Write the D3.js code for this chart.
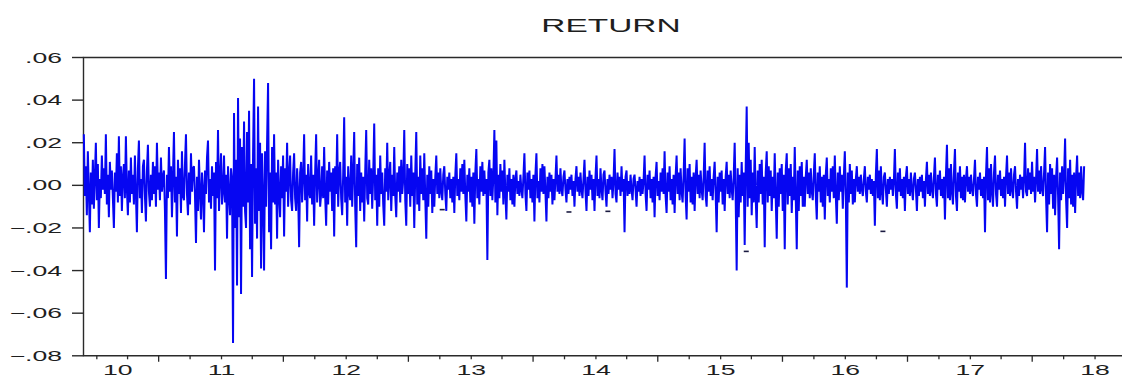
<!DOCTYPE html>
<html>
<head>
<meta charset="utf-8">
<script src="https://cdn.jsdelivr.net/npm/d3@7"></script>
<style>
  body { margin: 0; background: #fff; }
  text { font-family: "Liberation Sans", Arial, sans-serif; fill: #1e1e1e; }
</style>
</head>
<body>
<div id="chart"></div>
<script>
var width = 1122,
    height = 376;

const title = "RETURN";
const firstDay = new Date(2009, 10, 24);
const lastDay = new Date(2017, 10, 30);

// daily return in 0.001 units (about one value per pixel)
const returnsPermil = [
  24,-5,9,-14,16,-3,-22,6,-9,12,  -11,4,20,-7,10,-20,3,-6,14,-2,  8,-4,24,-9,5,-15,11,-2,7,-6,
  -20,6,-3,15,-8,23,-5,9,-12,4,  10,-6,23,-2,-14,7,-8,13,-4,5,  -9,14,-4,-22,8,21,-6,3,-13,9,
  12,-5,-17,7,19,-3,-10,5,-7,11,  -4,9,-10,20,-2,6,-7,13,-3,4,  7,-12,-44,5,-6,18,-3,9,-15,4,
  25,-8,4,-24,12,-4,8,-13,16,-5,  -7,10,24,-4,-14,6,-9,15,-3,8,  9,-5,-27,4,-12,12,-3,-16,6,-2,
  -22,7,-4,13,21,-8,3,-11,9,-5,  6,-40,11,-6,26,-12,4,15,-9,-3,  14,-8,5,-25,9,-4,-14,8,3,-74,
  34,-20,12,-47,41,-15,22,-51,18,-10,  30,-12,-20,25,-8,35,-30,10,-43,14,  50,-18,8,-25,37,-12,20,-39,15,-6,
  -40,16,-10,20,48,-22,6,-30,18,-8,  24,-9,6,-25,12,-4,-15,9,-6,14,  -24,8,-3,20,-10,5,14,-7,-12,6,
  15,-6,-12,8,-3,-29,6,11,-8,4,  24,-7,5,-17,10,-3,-6,14,-9,5,  -19,6,24,-8,3,12,-10,-4,9,-6,
  18,-5,-19,7,-9,11,-3,6,-12,8,  -24,9,-4,24,-10,6,11,-6,-14,5,  32,-8,4,-19,9,-3,-7,14,-10,6,
  25,-10,-29,10,-5,13,-12,6,-8,4,  -17,6,26,-6,-9,12,-4,8,-11,5,  29,-7,5,-19,8,-10,14,-4,6,-9,
  -19,8,-3,20,-7,4,11,-12,5,-5,  18,-5,-15,6,-3,9,-8,12,-4,3,  26,-7,-19,10,-4,8,-10,14,-5,6,
  -20,6,25,-9,4,-12,14,-4,8,-7,  15,-6,-25,5,-10,9,-4,7,-13,3,  -10,4,14,-4,6,-6,8,-3,-7,5,
  9,-4,-12,4,-2,6,-6,3,-8,4,  -13,5,15,-5,3,-7,8,-3,10,-4,  12,-5,-17,5,-3,8,-8,4,-10,6,
  -18,6,17,-6,3,-9,9,-3,11,-5,  7,-4,3,-35,6,12,-5,8,-7,4,  26,-8,21,-14,5,-6,10,-3,7,-9,
  12,-4,-16,5,-3,8,-7,3,-9,5,  -10,3,7,-4,2,-5,5,-2,-6,4,  15,-4,-12,6,-2,7,-6,3,-8,5,
  -17,5,15,-6,2,-8,8,-3,10,-4,  9,-3,-17,4,-6,6,-3,5,-9,3,  -7,3,14,-3,5,-4,8,-2,-5,4,
  7,-2,-8,3,-4,4,-2,5,-5,2,  -10,3,9,-3,4,-5,6,-2,-6,3,  12,-3,-12,4,-5,7,-2,5,-7,3,
  -12,4,14,-5,3,-6,8,-2,-7,5,  7,-3,-10,3,-4,5,-2,4,-6,2,  17,-4,-8,6,-2,4,-5,9,-3,3,
  -22,4,7,-5,2,-4,5,-2,-7,3,  5,-2,-10,2,-3,4,-5,3,-4,2,  14,-4,-12,5,-2,7,-6,3,-8,4,
  -15,4,11,-5,2,-7,6,-3,8,-4,  16,-5,-13,6,-3,9,-7,3,-9,5,  -13,4,14,-4,6,-7,8,-3,-8,5,
  22,-5,-16,8,-3,10,-8,4,-9,6,  -12,4,12,-4,5,-6,7,-2,-7,4,  20,-5,-10,7,-3,9,-5,3,-7,4,
  11,-4,-22,4,-8,6,-3,7,-9,3,  -12,4,11,-4,5,-6,7,-2,-7,4,  20,-6,-40,8,-15,5,-8,11,-5,6,
  -28,8,37,-10,20,-6,12,-14,6,-8,  18,-6,-20,7,-8,10,-4,12,-9,4,  -29,6,16,-8,9,-5,7,-12,4,-6,
  15,-6,-25,6,-10,8,-4,10,-12,5,  -30,7,15,-9,8,-5,10,-13,4,-7,  18,-6,-30,7,-12,9,-5,11,-10,4,
  -10,4,12,-4,6,-6,8,-3,-7,5,  15,-5,-16,6,-3,9,-8,4,-10,5,  -16,5,13,-5,3,-8,8,-3,9,-6,
  14,-5,-18,6,-7,9,-3,5,-11,4,  16,-5,-48,6,-8,10,-4,7,-9,3,  -8,3,9,-3,4,-4,5,-2,-5,3,
  9,-3,-8,4,-2,5,-4,3,-5,2,  -19,5,17,-6,7,-7,9,-3,-9,4,  6,-2,-10,3,-4,4,-2,3,-5,2,
  17,-4,-11,6,-3,8,-5,3,-6,4,  -12,4,9,-4,3,-5,6,-2,-7,3,  6,-2,-12,3,-5,4,-3,5,-6,2,
  -10,3,11,-4,5,-5,6,-2,-6,4,  13,-4,-10,5,-2,7,-5,3,-6,4,  -16,5,19,-6,8,-7,10,-3,-9,6,
  17,-5,-12,6,-3,9,-6,4,-7,5,  -8,3,9,-3,4,-4,5,-2,-5,3,  12,-4,-10,4,-2,6,-5,3,-6,4,
  -22,5,18,-7,8,-8,10,-3,-10,6,  14,-4,-10,5,-2,7,-5,3,-6,4,  -10,4,14,-4,6,-5,8,-2,-6,5,
  9,-3,-11,3,-5,5,-2,4,-6,3,  20,-3,-5,8,-2,6,-4,11,-3,4,  -8,3,17,-3,7,-4,9,-2,-5,6,
  18,-6,-22,6,-9,10,-4,8,-11,5,  -14,4,13,-5,-30,6,-7,9,-4,5,  22,-7,-20,8,-6,12,-9,5,-10,6,
  -13,4,14,-5,6,-6,9,-3,-7,9
];

// single days between holiday gaps, EViews shows them as short dashes
const loneDays = [new Date(2012, 9, 8), new Date(2013, 9, 14), new Date(2014, 1, 5),
                  new Date(2015, 2, 17), new Date(2016, 3, 20)];
const loneValues = [-.0114, -.0125, -.0122, -.031, -.0216];

const yTicks = [.06, .04, .02, 0, -.02, -.04, -.06, -.08];
const years = ["2010", "2011", "2012", "2013", "2014", "2015", "2016", "2017", "2018"];

const stretch = 1.9; // the picture is wider than the graph it came from

const x = d3.scaleTime()
    .domain([new Date(2009, 10, 23), new Date(2018, 3, 1)])
    .range([83.5, 1125.8]);

const y = d3.scaleLinear()
    .domain([-.08, .06])
    .range([355.8, 57.5]);

const step = (lastDay - firstDay) / (returnsPermil.length - 1);
const points = returnsPermil.map((v, i) => ({ date: new Date(+firstDay + i * step), value: v / 1000 }));

const svg = d3.select("#chart").append("svg")
    .attr("width", width)
    .attr("height", height)
    .style("display", "block")
    .style("background", "#fff");

// title
svg.append("text")
    .attr("transform", `translate(611,31.7) scale(${stretch},1)`)
    .attr("text-anchor", "middle")
    .style("font-size", "17.6px")
    .text(title);

// frame
const left = x.range()[0], right = x.range()[1];
svg.append("path")
    .attr("d", `M${right},${y(.06)}H${left}V${y(-.08)}H${right}`)
    .attr("fill", "none")
    .attr("stroke", "#2a2a2a")
    .attr("stroke-width", 1.4);

// y axis ticks + labels
const fmt = v => (v === 0 ? ".00" : d3.format(".2f")(v).replace("0.", "."));
const yg = svg.append("g");
yg.selectAll("line")
  .data(yTicks)
  .join("line")
    .attr("x1", left - 11.5)
    .attr("x2", left)
    .attr("y1", d => y(d))
    .attr("y2", d => y(d))
    .attr("stroke", "#2a2a2a")
    .attr("stroke-width", 1.4);
yg.selectAll("text")
  .data(yTicks)
  .join("text")
    .attr("transform", d => `translate(62,${y(d) + 5}) scale(${stretch},1)`)
    .attr("text-anchor", "end")
    .style("font-size", "14px")
    .text(fmt);

// x axis: quarterly ticks, longer ones in July, labels on the year start
const quarters = d3.timeMonth.every(3).range(new Date(2010, 0, 1), new Date(2018, 3, 2));
svg.append("g").selectAll("line")
  .data(quarters)
  .join("line")
    .attr("x1", d => x(d))
    .attr("x2", d => x(d))
    .attr("y1", y(-.08))
    .attr("y2", d => y(-.08) + (d.getMonth() === 6 ? 6 : 3.5))
    .attr("stroke", "#2a2a2a")
    .attr("stroke-width", 1.3);

svg.append("g").selectAll("text")
  .data(years)
  .join("text")
    .attr("transform", (d, i) => {
      let px = x(new Date(+d, 0, 1));
      if (i === 0) px += 21; // first label is pushed off the corner
      return `translate(${px},375) scale(${stretch},1)`;
    })
    .attr("text-anchor", "middle")
    .style("font-size", "14px")
    .text(d => d.slice(2));

// the series
const line = d3.line()
    .x(d => x(d.date))
    .y(d => y(d.value));

svg.append("path")
    .datum(points)
    .attr("fill", "none")
    .attr("stroke", "#0606f2")
    .attr("stroke-width", 2)
    .attr("stroke-linejoin", "miter")
    .attr("d", line);

svg.append("g").selectAll("line")
  .data(loneDays)
  .join("line")
    .attr("x1", d => x(d) - 2.5)
    .attr("x2", d => x(d) + 2.5)
    .attr("y1", (d, i) => y(loneValues[i]))
    .attr("y2", (d, i) => y(loneValues[i]))
    .attr("stroke", "#1a1a40")
    .attr("stroke-width", 1.6);
</script>
</body>
</html>
